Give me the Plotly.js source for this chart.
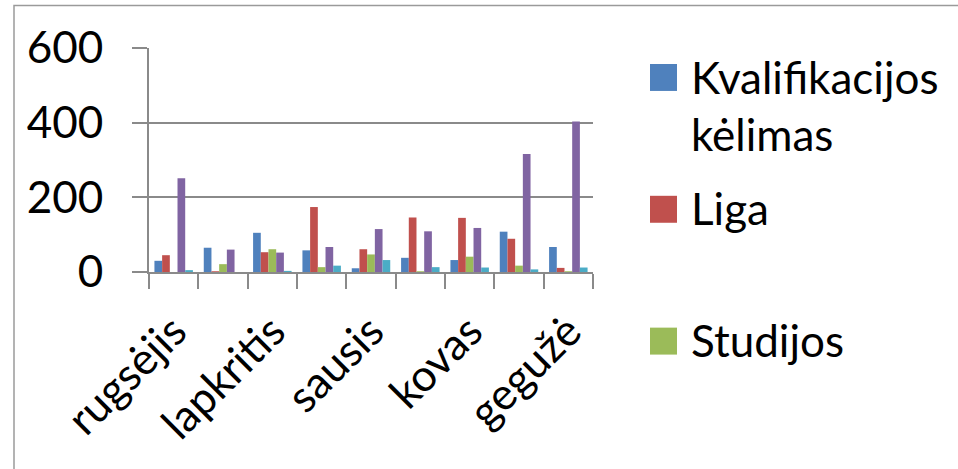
<!DOCTYPE html>
<html>
<head>
<meta charset="utf-8">
<script src="https://cdn.plot.ly/plotly-3.0.1.min.js"></script>
<style>
  html, body { margin: 0; padding: 0; background: #fff; }
  #chart { width: 958px; height: 469px; }
</style>
</head>
<body>
<div id="chart"></div>
<script>
// ---- data ----
const months = ['rugsėjis', 'spalis', 'lapkritis', 'gruodis', 'sausis', 'vasaris', 'kovas', 'balandis', 'gegužė'];
const tickLabels = ['rugsėjis', '', 'lapkritis', '', 'sausis', '', 'kovas', '', 'gegužė'];
const seriesNames = ['Kvalifikacijos kėlimas', 'Liga', 'Studijos', 'Serija 4', 'Serija 5'];
const kvalifikacija = [30, 65, 105, 58, 10, 38, 32, 108, 67];
const liga = [45, 2, 53, 174, 61, 146, 145, 89, 11];
const studijos = [0, 21, 61, 13, 47, 2, 41, 17, 2];
const serija4 = [251, 60, 52, 67, 115, 109, 118, 316, 403];
const serija5 = [5, 0, 3, 17, 32, 13, 12, 7, 12];
const yTicks = [0, 200, 400, 600];

// ---- style ----
const colors = ['#4F81BD', '#C0504D', '#9BBB59', '#8064A2', '#4BACC6'];
const values = [kvalifikacija, liga, studijos, serija4, serija5];
const FONT = 'Lato, Calibri, "Open Sans", sans-serif';
const FS = 44;
const gray = '#8a8a8a';

// plot area in pixels
const L = 149, R = 593, T = 48, B = 272.3;
const W = 958, H = 469;
const px = x => (x - L) / (R - L);
const py = y => (B - y) / (B - T);

const traces = values.map((v, i) => ({
  type: 'bar',
  x: months,
  y: v,
  name: seriesNames[i],
  marker: { color: colors[i], line: { width: 0 } },
  showlegend: false,
  hoverinfo: 'x+y+name'
}));

// custom legend (Excel-style large swatches), only the visible entries
const legendItems = [
  { idx: 0, text: 'Kvalifikacijos<br>kėlimas', sw: 64, ty: 106 },
  { idx: 1, text: 'Liga', sw: 196, ty: 208 },
  { idx: 2, text: 'Studijos', sw: 328, ty: 340 }
];
const shapes = [
  { type: 'rect', xref: 'paper', yref: 'paper',
    x0: px(14), x1: px(1100), y0: py(700), y1: py(5.5),
    line: { color: '#9a9a9a', width: 1.5 }, fillcolor: 'rgba(0,0,0,0)', layer: 'below' }
];
const annotations = [];
legendItems.forEach(it => {
  shapes.push({ type: 'rect', xref: 'paper', yref: 'paper',
    x0: px(650), x1: px(677), y0: py(it.sw + 27), y1: py(it.sw),
    line: { width: 0 }, fillcolor: colors[it.idx] });
  annotations.push({ xref: 'paper', yref: 'paper', x: px(689), y: py(it.ty),
    xanchor: 'left', yanchor: 'middle', align: 'left', showarrow: false,
    text: it.text, font: { family: FONT, size: FS, color: '#000' } });
});

const layout = {
  width: W, height: H,
  margin: { l: L, r: W - R, t: T, b: H - B, pad: 0 },
  paper_bgcolor: '#fff', plot_bgcolor: '#fff',
  font: { family: FONT, size: FS, color: '#000' },
  barmode: 'group', bargap: 0.22, bargroupgap: 0,
  showlegend: false,
  xaxis: {
    type: 'category',
    tickmode: 'array', tickvals: months, ticktext: tickLabels,
    tickson: 'boundaries', ticks: 'outside', ticklen: 15, tickwidth: 2, tickcolor: gray,
    tickangle: -45,
    ticklabelstandoff: 14,
    showline: true, linecolor: gray, linewidth: 2,
    showgrid: false, zeroline: false,
    tickfont: { family: FONT, size: FS, color: '#000' }
  },
  yaxis: {
    range: [0, 600],
    tickmode: 'array', tickvals: yTicks,
    ticks: 'outside', ticklen: 15, tickwidth: 2, tickcolor: gray,
    ticklabelstandoff: 20,
    showline: true, linecolor: gray, linewidth: 2,
    showgrid: true, gridcolor: gray, gridwidth: 2,
    zeroline: false,
    tickfont: { family: FONT, size: FS, color: '#000' }
  },
  shapes: shapes,
  annotations: annotations
};

Plotly.newPlot('chart', traces, layout, { displayModeBar: false, staticPlot: true });
</script>
</body>
</html>
